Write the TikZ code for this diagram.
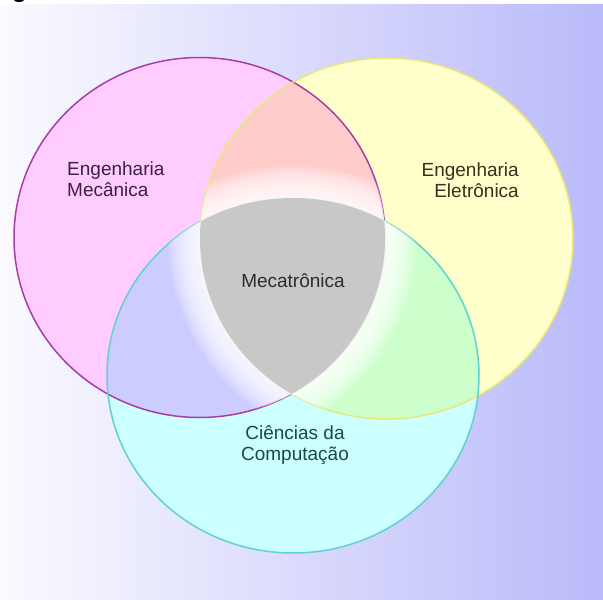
\documentclass[tikz,border=0pt]{standalone}
\usepackage{fontspec}
\setmainfont{Liberation Sans}
\definecolor{bgL}{RGB}{250,250,255}
\definecolor{bgR}{RGB}{186,186,250}
\definecolor{magFill}{RGB}{255,204,255}
\definecolor{magLine}{RGB}{170,60,165}
\definecolor{yelFill}{RGB}{255,255,204}
\definecolor{yelLine}{RGB}{232,232,120}
\definecolor{cyaFill}{RGB}{204,255,255}
\definecolor{cyaLine}{RGB}{95,210,210}
\definecolor{salmonFill}{RGB}{255,204,204}
\definecolor{lavFill}{RGB}{204,204,255}
\definecolor{greenFill}{RGB}{204,255,204}
\definecolor{grayFill}{RGB}{200,200,200}
\definecolor{txtMag}{RGB}{62,32,64}
\definecolor{txtYel}{RGB}{50,50,30}
\definecolor{txtGray}{RGB}{45,45,45}
\definecolor{txtCya}{RGB}{30,72,72}
\tikzset{
  magP/.style={insert path={(199.5,237.5) ellipse [x radius=185.5, y radius=180]}},
  yelP/.style={insert path={(386.5,238.5) ellipse [x radius=186.5, y radius=180.5]}},
  cyaP/.style={insert path={(293,375.5) ellipse [x radius=186, y radius=177.5]}},
  lbl/.style={inner sep=0pt, font=\fontsize{19}{21}\selectfont},
  glowline/.style={draw=white, opacity=0.12},
  outline/.style={line width=1.5pt}
}
\begin{document}
\begin{tikzpicture}[x=1pt,y=-1pt]
\useasboundingbox (0,0) rectangle (603,600);
% background
\fill[white] (0,0) rectangle (603,4);
\shade[left color=bgL, right color=bgR] (0,4) rectangle (603,600);
% cut-off caption glyph at top left
\begin{scope}
  \clip (0,0) rectangle (603,600);
  \node[anchor=base west, inner sep=0pt, font=\fontsize{24}{24}\selectfont\bfseries] (capg) at (12,-2.5) {g};
\end{scope}
% circle fills
\fill[magFill, magP];
\fill[yelFill, yelP];
\fill[cyaFill, cyaP];
% pairwise regions
\begin{scope}
  \clip[magP];
  \fill[salmonFill, yelP];
  \fill[lavFill, cyaP];
\end{scope}
\begin{scope}
  \clip[yelP];
  \fill[greenFill, cyaP];
\end{scope}
% outlines
\draw[outline, magLine, magP];
\draw[outline, yelLine, yelP];
\draw[outline, cyaLine, cyaP];
% white glow around the centre
\begin{scope}
  \clip[magP]; \clip[yelP];
  \foreach \w in {64,60,...,4} {\draw[glowline, line width=\w pt, cyaP];}
\end{scope}
\begin{scope}
  \clip[magP]; \clip[cyaP];
  \foreach \w in {64,60,...,4} {\draw[glowline, line width=\w pt, yelP];}
\end{scope}
\begin{scope}
  \clip[yelP]; \clip[cyaP];
  \foreach \w in {64,60,...,4} {\draw[glowline, line width=\w pt, magP];}
\end{scope}
% centre region
\begin{scope}
  \clip[magP]; \clip[yelP];
  \fill[grayFill, cyaP];
\end{scope}
% labels
\node[lbl, text=txtMag, anchor=base west, align=left] (mec) at (67,196) {Engenharia\\Mecânica};
\node[lbl, text=txtYel, anchor=base east, align=right] (ele) at (519,197) {Engenharia\\Eletrônica};
\node[lbl, text=txtGray, anchor=base] (mecat) at (293,287) {Mecatrônica};
\node[lbl, text=txtCya, anchor=base, align=center] (comp) at (295,460) {Ciências da\\Computação};
\end{tikzpicture}
\end{document}
